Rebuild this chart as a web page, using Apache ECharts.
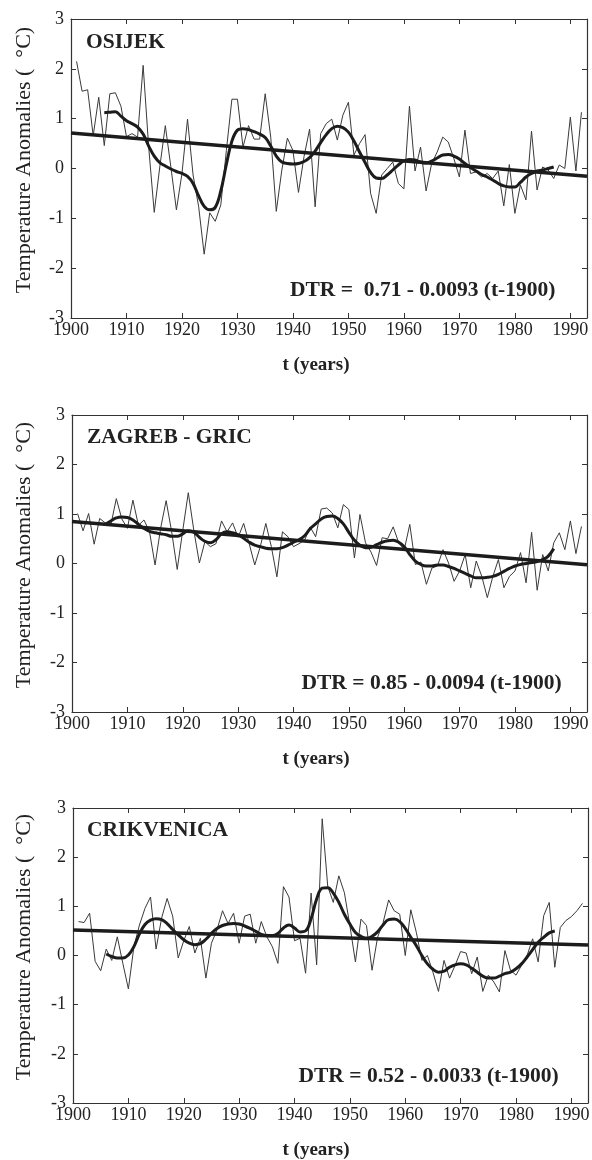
<!DOCTYPE html>
<html>
<head>
<meta charset="utf-8">
<title>DTR anomalies</title>
<script src="https://cdn.jsdelivr.net/npm/echarts@6/dist/echarts.min.js"></script>
<style>
  html, body { margin: 0; padding: 0; background: #fff; }
  #chart { width: 592px; height: 1160px; }
</style>
</head>
<body>
<div id="chart"></div>
<script>
// years of the annual curves and of the smoothed curves
const years = [
  1901, 1902, 1903, 1904, 1905, 1906, 1907, 1908, 1909, 1910,
  1911, 1912, 1913, 1914, 1915, 1916, 1917, 1918, 1919, 1920,
  1921, 1922, 1923, 1924, 1925, 1926, 1927, 1928, 1929, 1930,
  1931, 1932, 1933, 1934, 1935, 1936, 1937, 1938, 1939, 1940,
  1941, 1942, 1943, 1944, 1945, 1946, 1947, 1948, 1949, 1950,
  1951, 1952, 1953, 1954, 1955, 1956, 1957, 1958, 1959, 1960,
  1961, 1962, 1963, 1964, 1965, 1966, 1967, 1968, 1969, 1970,
  1971, 1972, 1973, 1974, 1975, 1976, 1977, 1978, 1979, 1980,
  1981, 1982, 1983, 1984, 1985, 1986, 1987, 1988, 1989, 1990,
  1991, 1992
];
const smoothYears = [
  1906, 1907, 1908, 1909, 1910,
  1911, 1912, 1913, 1914, 1915, 1916, 1917, 1918, 1919, 1920,
  1921, 1922, 1923, 1924, 1925, 1926, 1927, 1928, 1929, 1930,
  1931, 1932, 1933, 1934, 1935, 1936, 1937, 1938, 1939, 1940,
  1941, 1942, 1943, 1944, 1945, 1946, 1947, 1948, 1949, 1950,
  1951, 1952, 1953, 1954, 1955, 1956, 1957, 1958, 1959, 1960,
  1961, 1962, 1963, 1964, 1965, 1966, 1967, 1968, 1969, 1970,
  1971, 1972, 1973, 1974, 1975, 1976, 1977, 1978, 1979, 1980,
  1981, 1982, 1983, 1984, 1985, 1986, 1987
];
const trendYears = [1900, 1993];

// OSIJEK
const osijekAnnual = [
  2.15, 1.55, 1.58, 0.66, 1.43, 0.46, 1.5, 1.52, 1.25, 0.64,
  0.7, 0.63, 2.07, 0.43, -0.88, 0.03, 0.86, 0.03, -0.83, -0.1,
  0.99, -0.13, -0.76, -1.72, -0.89, -1.06, -0.73, 0.36, 1.39, 1.39,
  0.43, 0.86, 0.59, 0.59, 1.5, 0.63, -0.86, -0.03, 0.61, 0.36,
  -0.48, 0.24, 0.79, -0.77, 0.7, 0.9, 0.99, 0.57, 1.07, 1.33,
  0.27, 0.5, 0.68, -0.5, -0.9, -0.13, 0, 0.13, -0.3, -0.41,
  1.25, -0.05, 0.43, -0.45, 0.1, 0.33, 0.63, 0.53, 0.2, -0.17,
  0.77, -0.1, -0.07, -0.17, -0.1, -0.2, -0.05, -0.75, 0.08, -0.9,
  -0.33, -0.63, 0.75, -0.43, 0.03, -0.03, -0.2, 0.07, 0, 1.03,
  -0.05, 1.13
];
const osijekSmooth = [
  1.12, 1.13, 1.14, 1.05, 0.96,
  0.9, 0.83, 0.69, 0.45, 0.25, 0.12, 0.05, -0.01, -0.06, -0.1,
  -0.16, -0.3, -0.55, -0.76, -0.83, -0.78, -0.45, 0.08, 0.55, 0.77,
  0.8, 0.78, 0.74, 0.69, 0.62, 0.45, 0.25, 0.13, 0.1, 0.09,
  0.1, 0.14, 0.22, 0.35, 0.52, 0.68, 0.8, 0.85, 0.82, 0.73,
  0.55, 0.33, 0.12, -0.08, -0.19, -0.2, -0.13, -0.03, 0.07, 0.15,
  0.18, 0.17, 0.13, 0.11, 0.15, 0.21, 0.27, 0.28, 0.25, 0.19,
  0.1, 0.02, -0.05, -0.12, -0.17, -0.23, -0.3, -0.35, -0.37, -0.37,
  -0.28, -0.17, -0.1, -0.05, -0.03, 0, 0.03
];
const osijekTrend = [0.71, -0.155];

// ZAGREB - GRIC
const zagrebAnnual = [
  1.01, 0.66, 1.01, 0.39, 0.91, 0.82, 0.77, 1.31, 0.9, 0.71,
  1.28, 0.77, 0.88, 0.64, -0.03, 0.71, 1.27, 0.64, -0.12, 0.67,
  1.43, 0.67, 0.01, 0.44, 0.34, 0.4, 0.86, 0.64, 0.82, 0.53,
  0.81, 0.4, -0.03, 0.34, 0.81, 0.34, -0.27, 0.64, 0.54, 0.34,
  0.4, 0.47, 0.74, 0.54, 1.1, 1.12, 1.02, 0.72, 1.19, 1.09,
  0.11, 0.99, 0.42, 0.23, -0.04, 0.52, 0.5, 0.74, 0.42, 0.28,
  0.79, -0.02, 0.03, -0.42, -0.09, -0.05, 0.28, 0.01, -0.36, -0.15,
  0.18, -0.49, 0.05, -0.26, -0.69, -0.26, 0.08, -0.49, -0.26, -0.15,
  0.22, -0.39, 0.63, -0.54, 0.18, -0.15, 0.42, 0.62, 0.28, 0.86,
  0.2, 0.75
];
const zagrebSmooth = [
  0.79, 0.86, 0.92, 0.94, 0.93,
  0.88, 0.79, 0.71, 0.65, 0.62, 0.6, 0.58, 0.55, 0.55, 0.6,
  0.66, 0.63, 0.53, 0.45, 0.42, 0.48, 0.6, 0.64, 0.62, 0.58,
  0.51, 0.43, 0.37, 0.34, 0.31, 0.3, 0.3, 0.32, 0.37, 0.43,
  0.48, 0.56, 0.7, 0.8, 0.9, 0.95, 0.96, 0.91, 0.8, 0.63,
  0.47, 0.37, 0.32, 0.33, 0.38, 0.43, 0.46, 0.47, 0.43, 0.34,
  0.18, 0.05, -0.02, -0.05, -0.05, -0.03, -0.03, -0.06, -0.1, -0.15,
  -0.2, -0.25, -0.29, -0.29, -0.28, -0.26, -0.22, -0.16, -0.1, -0.05,
  -0.02, 0, 0.02, 0.04, 0.08, 0.15, 0.3
];
const zagrebTrend = [0.85, -0.024];

// CRIKVENICA
const crikvenicaAnnual = [
  0.69, 0.67, 0.86, -0.12, -0.31, 0.13, -0.1, 0.38, -0.16, -0.68,
  0.18, 0.62, 0.96, 1.19, 0.13, 0.76, 1.16, 0.8, -0.05, 0.3,
  0.59, 0.05, 0.35, -0.46, 0.25, 0.52, 0.91, 0.65, 0.86, 0.25,
  0.8, 0.84, 0.25, 0.69, 0.38, 0.18, -0.16, 1.4, 1.19, 0.3,
  0.35, -0.36, 1.27, -0.19, 2.78, 1.41, 1.08, 1.62, 1.28, 0.61,
  -0.13, 0.74, 0.61, -0.3, 0.37, 0.67, 1.13, 0.91, 0.84, 0,
  0.93, 0.47, -0.1, 0, -0.34, -0.73, -0.1, -0.46, -0.2, 0.08,
  0.05, -0.37, -0.03, -0.73, -0.4, -0.54, -0.74, 0.1, -0.3, -0.4,
  -0.2, 0, 0.34, -0.13, 0.81, 1.08, -0.24, 0.57, 0.71, 0.79,
  0.91, 1.06
];
const crikvenicaSmooth = [
  0.03, -0.02, -0.05, -0.05, 0.01,
  0.18, 0.44, 0.63, 0.72, 0.75, 0.73, 0.65, 0.53, 0.42, 0.32,
  0.25, 0.22, 0.24, 0.33, 0.45, 0.55, 0.61, 0.64, 0.65, 0.64,
  0.6, 0.55, 0.49, 0.43, 0.4, 0.4, 0.45, 0.56, 0.62, 0.56,
  0.48, 0.5, 0.75, 1.15, 1.37, 1.38, 1.27, 1.08, 0.84, 0.64,
  0.47, 0.39, 0.35, 0.39, 0.48, 0.62, 0.73, 0.74, 0.69, 0.55,
  0.37, 0.2, 0, -0.17, -0.28, -0.34, -0.32, -0.24, -0.19, -0.17,
  -0.19, -0.26, -0.34, -0.42, -0.46, -0.46, -0.42, -0.37, -0.34, -0.27,
  -0.17, -0.03, 0.12, 0.27, 0.37, 0.46, 0.5
];
const crikvenicaTrend = [0.52, 0.213];

const stationNames = ['OSIJEK', 'ZAGREB - GRIC', 'CRIKVENICA'];
const equations = [
  'DTR =  0.71 - 0.0093 (t-1900)',
  'DTR = 0.85 - 0.0094 (t-1900)',
  'DTR = 0.52 - 0.0033 (t-1900)'
];
const yName = 'Temperature Anomalies (  \u00b0C)';
const xName = 't (years)';

const stations = [
  { annual: osijekAnnual, smooth: osijekSmooth, trend: osijekTrend },
  { annual: zagrebAnnual, smooth: zagrebSmooth, trend: zagrebTrend },
  { annual: crikvenicaAnnual, smooth: crikvenicaSmooth, trend: crikvenicaTrend }
];

// layout of the three panels
const panels = [
  { left: 71, top: 19, width: 516, height: 299, nameX: 86, nameY: 42.5, eqX: 290, eqY: 290, yNameY: 160, xNameY: 365 },
  { left: 72, top: 415, width: 515, height: 297, nameX: 87, nameY: 437, eqX: 301.5, eqY: 683, yNameY: 555, xNameY: 759 },
  { left: 73, top: 808, width: 515, height: 295, nameX: 87, nameY: 830.5, eqX: 298.5, eqY: 1076.5, yNameY: 947, xNameY: 1150 }
];

const SERIF = '"Liberation Serif", "Times New Roman", serif';
const INK = '#222';
const FRAME = '#333';

const grid = [];
const xAxis = [];
const yAxis = [];
const series = [];
const graphic = [];

panels.forEach((p, i) => {
  grid.push({ left: p.left, top: p.top, width: p.width, height: p.height, containLabel: false, outerBoundsMode: 'none' });

  const xBase = {
    type: 'value', gridIndex: i, min: 1900, max: 1993, interval: 10,
    splitLine: { show: false },
    axisLine: { show: true, onZero: false, lineStyle: { color: FRAME, width: 1.2 } },
    axisTick: { show: true, inside: true, length: 5, lineStyle: { color: FRAME } }
  };
  xAxis.push(Object.assign({}, xBase, {
    position: 'bottom',
    axisLabel: {
      show: true, margin: 3, color: INK, fontFamily: SERIF, fontSize: 18,
      formatter: (v) => (v % 10 === 0 ? String(v) : '')
    }
  }));
  xAxis.push(Object.assign({}, xBase, { position: 'top', axisLabel: { show: false } }));

  const yBase = {
    type: 'value', gridIndex: i, min: -3, max: 3, interval: 1,
    splitLine: { show: false },
    axisLine: { show: true, onZero: false, lineStyle: { color: FRAME, width: 1.2 } },
    axisTick: { show: true, inside: true, length: 5, lineStyle: { color: FRAME } }
  };
  yAxis.push(Object.assign({}, yBase, {
    position: 'left',
    axisLabel: { show: true, margin: 7, color: INK, fontFamily: SERIF, fontSize: 18 }
  }));
  yAxis.push(Object.assign({}, yBase, { position: 'right', axisLabel: { show: false } }));

  const s = stations[i];
  series.push({
    type: 'line', xAxisIndex: 2 * i, yAxisIndex: 2 * i,
    data: years.map((y, k) => [y, s.annual[k]]),
    showSymbol: false, silent: true,
    lineStyle: { color: '#3a3a3a', width: 1 }, z: 2
  });
  series.push({
    type: 'line', xAxisIndex: 2 * i, yAxisIndex: 2 * i,
    data: smoothYears.map((y, k) => [y, s.smooth[k]]),
    showSymbol: false, silent: true, smooth: 0.4,
    lineStyle: { color: '#1c1c1c', width: 3 }, z: 3
  });
  series.push({
    type: 'line', xAxisIndex: 2 * i, yAxisIndex: 2 * i,
    data: trendYears.map((y, k) => [y, s.trend[k]]),
    showSymbol: false, silent: true,
    lineStyle: { color: '#1c1c1c', width: 3.5 }, z: 4
  });

  const txt = (text, x, y, font, align, rotation) => ({
    type: 'text', x: x, y: y, rotation: rotation || 0, silent: true, z: 10,
    style: {
      text: text, font: font, fill: INK,
      align: align, verticalAlign: 'middle',
      textAlign: align, textVerticalAlign: 'middle'
    }
  });
  graphic.push(txt(stationNames[i], p.nameX, p.nameY, 'bold 21.5px ' + SERIF, 'left'));
  graphic.push(txt(equations[i], p.eqX, p.eqY, 'bold 21.5px ' + SERIF, 'left'));
  graphic.push(txt(yName, 24.5, p.yNameY, '22px ' + SERIF, 'center', Math.PI / 2));
  graphic.push(txt(xName, 316, p.xNameY, 'bold 19px ' + SERIF, 'center'));
});

const myChart = echarts.init(document.getElementById('chart'));
myChart.setOption({
  animation: false,
  backgroundColor: '#ffffff',
  grid: grid,
  xAxis: xAxis,
  yAxis: yAxis,
  series: series,
  graphic: graphic
});
</script>
</body>
</html>
